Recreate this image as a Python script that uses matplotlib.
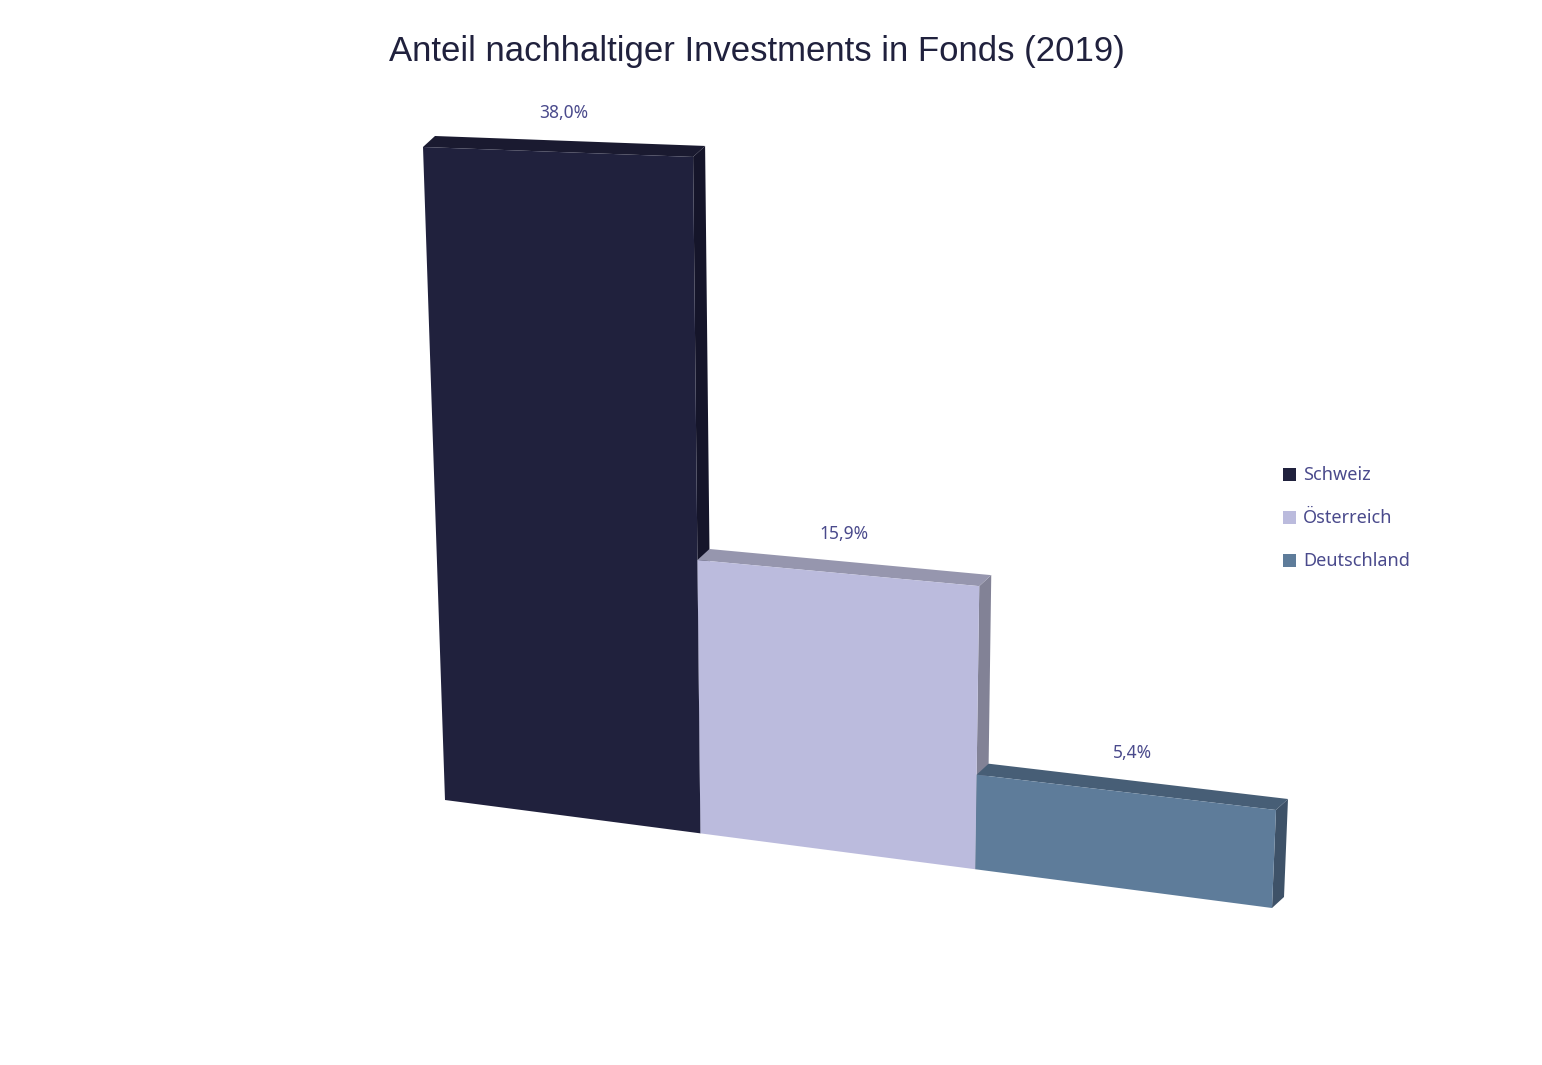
import numpy as np
import matplotlib.pyplot as plt
from matplotlib.patches import Polygon, Rectangle

# --- Daten ---
TITLE = 'Anteil nachhaltiger Investments in Fonds (2019)'
categories = ['Schweiz', 'Österreich', 'Deutschland']
values = [38.0, 15.9, 5.4]
labels = ['38,0%', '15,9%', '5,4%']

front_colors = ['#20213D', '#BBBBDD', '#5E7C9A']
top_colors = ['#1A1A30', '#9696AE', '#475E76']
side_colors = ['#15152A', '#828296', '#3E5268']
TEXT_COLOR = '#4A4A8C'

# --- Perspektive (Homographie der Frontebene) ---
src = np.array([[0, 0], [3, 0], [0, 38], [3, 5.4]], float)
dst = np.array([[445, 800], [1272, 908], [423, 147], [1276, 810]], float)
A = []
b = []
for (x, y), (u, v) in zip(src, dst):
    A.append([x, y, 1, 0, 0, 0, -u * x, -u * y]); b.append(u)
    A.append([0, 0, 0, x, y, 1, -v * x, -v * y]); b.append(v)
h = np.linalg.solve(np.array(A), np.array(b))
H = np.append(h, 1).reshape(3, 3)

def proj(x, y):
    p = H @ np.array([x, y, 1.0])
    return p[0] / p[2], p[1] / p[2]

DEPTH = np.array([12, -11])

fig = plt.figure(figsize=(15.42, 10.65), dpi=100)
ax = fig.add_axes([0, 0, 1, 1])
ax.set_xlim(0, 1542)
ax.set_ylim(1065, 0)
ax.axis('off')

for i, val in enumerate(values):
    bl = np.array(proj(i, 0)); br = np.array(proj(i + 1, 0))
    tl = np.array(proj(i, val)); tr = np.array(proj(i + 1, val))
    side = [tr, tr + DEPTH, br + DEPTH, br]
    top = [tl, tl + DEPTH, tr + DEPTH, tr]
    ax.add_patch(Polygon(side, closed=True, fc=side_colors[i], ec='none'))
    ax.add_patch(Polygon(top, closed=True, fc=top_colors[i], ec='none'))
    ax.add_patch(Polygon([bl, tl, tr, br], closed=True, fc=front_colors[i], ec='none'))
    cx = (tl[0] + tr[0]) / 2 + 6
    cy = (tl[1] + tr[1]) / 2 - 30
    ax.text(cx, cy, labels[i], ha='center', va='bottom', fontsize=12.5,
            color=TEXT_COLOR, family='Noto Sans')

ax.text(757, 52, TITLE, ha='center', va='center', fontsize=25,
        color='#20213D', family='Liberation Sans')

# --- Legende ---
for i, cat in enumerate(categories):
    y = 475 + i * 43
    ax.add_patch(Rectangle((1283, y - 7), 13, 13, fc=front_colors[i], ec='none'))
    ax.text(1303, y, cat, ha='left', va='center', fontsize=13,
            color=TEXT_COLOR, family='Noto Sans')

fig.savefig('out.png', dpi=100)
